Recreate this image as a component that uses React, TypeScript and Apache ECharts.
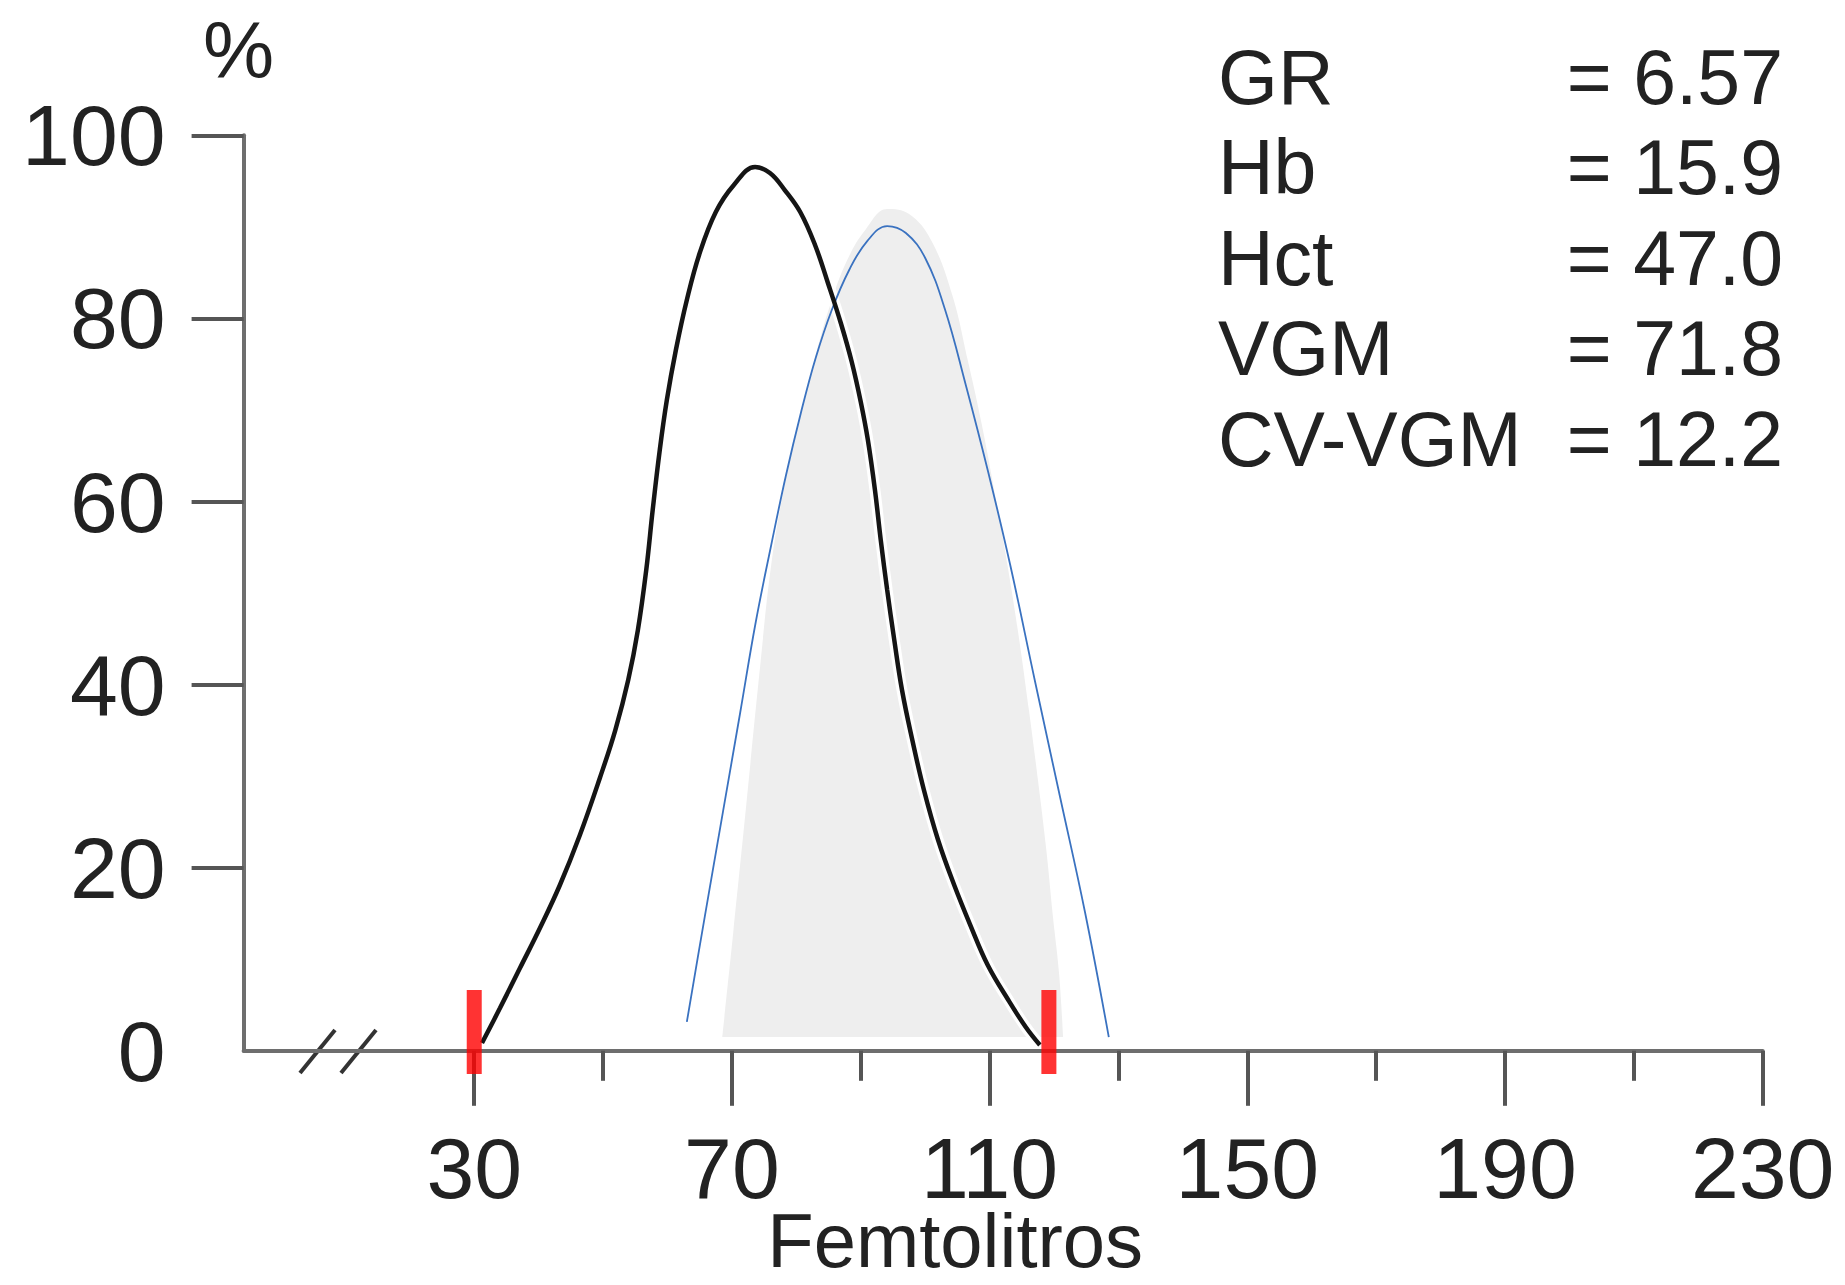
import React, { useEffect, useRef } from "react";
import * as echarts from "echarts";

// ---- data ----
const yLabelValues = [0, 20, 40, 60, 80, 100];
const yTickValues = [20, 40, 60, 80, 100];
const xLabelValues = [30, 70, 110, 150, 190, 230];
const xMinorTickValues = [50, 90, 130, 170, 210];

// patient RBC volume distribution (black)
const sampleCurve: number[][] = [
  [31.2, 0.85], [34.0, 4.67], [37.1, 9.04], [40.2, 13.41], [43.3, 18.11], [46.4, 23.57],
  [49.5, 29.8], [51.9, 35.04], [53.9, 40.5], [55.4, 45.96], [56.7, 52.52], [57.7, 59.07],
  [58.8, 65.63], [59.9, 71.09], [61.3, 76.55], [63.0, 82.01], [65.0, 87.14], [67.5, 91.62],
  [70.3, 94.57], [73.6, 96.54], [75.9, 95.88], [78.2, 94.02], [80.6, 91.62], [82.9, 88.02],
  [84.9, 83.87], [86.9, 79.5], [88.6, 75.24], [90.0, 70.87], [91.1, 66.72], [92.2, 61.26],
  [93.1, 55.8], [94.1, 50.33], [95.2, 44.87], [96.4, 39.41], [98.0, 33.95], [99.8, 28.49],
  [102.0, 23.03], [104.5, 18.11], [107.0, 13.74], [109.7, 9.37], [112.9, 5.55], [115.6, 2.6],
  [117.8, 0.63],
];

// reference distribution (blue)
const referenceCurve: number[][] = [
  [63.0, 3.15], [65.8, 14.72], [68.6, 26.08], [71.3, 37.01], [73.7, 46.84], [76.1, 55.25],
  [78.4, 62.89], [80.7, 69.67], [83.0, 75.68], [85.5, 80.92], [88.2, 85.29], [91.0, 88.45],
  [94.1, 90.09], [97.0, 89.33], [100.0, 86.6], [103.1, 80.92], [106.3, 72.73], [109.7, 63.44],
  [113.2, 53.06], [117.0, 40.5], [120.9, 27.83], [124.8, 15.16], [128.5, 1.5],
];

// normal range band (grey)
const normalBand: number[][] = [
  [68.5, 1.5], [70.2, 12.9], [72.3, 27.4], [74.4, 42.14], [76.2, 53.61], [78.4, 62.57],
  [80.7, 69.67], [83.0, 76.0], [85.4, 81.79], [87.9, 86.38], [90.7, 89.66], [94.1, 91.95],
  [97.5, 91.4], [100.9, 88.56], [104.2, 82.56], [106.6, 75.46], [108.8, 68.36], [111.0, 60.16],
  [112.9, 52.52], [114.6, 44.87], [116.1, 37.23], [117.5, 29.58], [118.8, 21.93], [119.8, 14.83],
  [120.8, 8.28], [121.4, 1.5],
];
const bandBase = 1.5;

const thresholdMarkers: number[][] = [[30, 2.05], [119.2, 2.05]];

const statNames = ["GR", "Hb", "Hct", "VGM", "CV-VGM"];
const statValues = ["6.57", "15.9", "47.0", "71.8", "12.2"];

const FONT = "'Liberation Sans', Arial, Helvetica, sans-serif";
const AXIS_COLOR = "#6e6e6e";
const TEXT_COLOR = "#222222";

export default function App() {
  const ref = useRef<HTMLDivElement>(null);

  useEffect(() => {
    if (!ref.current) return;
    const chart = echarts.init(ref.current, undefined, { renderer: "svg" });

    const statGraphics: any[] = [];
    statNames.forEach((n, i) => {
      statGraphics.push({
        type: "text",
        left: 1218,
        top: 76 + i * 90.5 - 38,
        style: { text: n, font: `77px ${FONT}`, fill: TEXT_COLOR },
      });
      statGraphics.push({
        type: "text",
        right: 1845 - 1783,
        top: 76 + i * 90.5 - 38,
        style: { text: "= " + statValues[i], font: `77px ${FONT}`, fill: TEXT_COLOR, textAlign: "right" },
      });
    });

    const smooth = 0.4;

    const option: any = {
      animation: false,
      backgroundColor: "#ffffff",
      grid: {
        left: 243.6,
        right: 82.3,
        top: 135.3,
        bottom: 234.2,
        containLabel: false,
        outerBoundsMode: "none",
      },
      xAxis: [
        {
          type: "value",
          min: -5.8,
          max: 230,
          position: "bottom",
          axisLine: { show: true, onZero: false, lineStyle: { color: AXIS_COLOR, width: 4 } },
          axisTick: { show: true, customValues: xLabelValues, length: 55, lineStyle: { color: "#555", width: 4 } },
          axisLabel: {
            show: true,
            customValues: xLabelValues,
            margin: 82,
            fontSize: 86,
            lineHeight: 70,
            fontFamily: FONT,
            color: TEXT_COLOR,
          },
          splitLine: { show: false },
          name: "Femtolitros",
          nameLocation: "middle",
          nameGap: 160,
          nameMoveOverlap: false,
          nameTextStyle: {
            fontSize: 76,
            lineHeight: 60,
            fontFamily: FONT,
            color: TEXT_COLOR,
            padding: [0, 96, 0, 0],
          },
        },
        {
          type: "value",
          min: -5.8,
          max: 230,
          position: "bottom",
          axisLine: { show: false, onZero: false },
          axisTick: { show: true, customValues: xMinorTickValues, length: 30, lineStyle: { color: "#555", width: 4 } },
          axisLabel: { show: false },
          splitLine: { show: false },
        },
      ],
      yAxis: {
        type: "value",
        min: 0,
        max: 100,
        axisLine: { show: true, onZero: false, lineStyle: { color: AXIS_COLOR, width: 4 } },
        axisTick: { show: true, customValues: yTickValues, length: 52, lineStyle: { color: "#555", width: 4 } },
        axisLabel: {
          show: true,
          customValues: yLabelValues,
          margin: 78,
          fontSize: 86,
          fontFamily: FONT,
          color: TEXT_COLOR,
        },
        splitLine: { show: false },
        name: "%",
        nameLocation: "end",
        nameGap: 45,
        nameMoveOverlap: false,
        nameTextStyle: { fontSize: 80, fontFamily: FONT, color: TEXT_COLOR, padding: [0, 10, 0, 0] },
      },
      graphic: [
        { type: "line", shape: { x1: 300, y1: 1073, x2: 335, y2: 1030 }, style: { stroke: "#333", lineWidth: 4 } },
        { type: "line", shape: { x1: 341, y1: 1073, x2: 376, y2: 1030 }, style: { stroke: "#333", lineWidth: 4 } },
        ...statGraphics,
      ],
      series: [
        {
          type: "line",
          data: normalBand,
          smooth,
          showSymbol: false,
          silent: true,
          lineStyle: { width: 0, opacity: 0 },
          areaStyle: { color: "#eeeeee", opacity: 1, origin: bandBase },
          z: 1,
        },
        {
          type: "line",
          data: sampleCurve,
          smooth,
          showSymbol: false,
          silent: true,
          lineStyle: { width: 11, color: "#ffffff" },
          z: 2,
        },
        {
          type: "line",
          data: referenceCurve,
          smooth,
          showSymbol: false,
          silent: true,
          lineStyle: { width: 1.8, color: "#3a72c0" },
          z: 3,
        },
        {
          type: "line",
          data: sampleCurve,
          smooth,
          showSymbol: false,
          silent: true,
          lineStyle: { width: 4.5, color: "#151515" },
          z: 4,
        },
        {
          type: "scatter",
          data: thresholdMarkers,
          symbol: "rect",
          symbolSize: [15, 84],
          silent: true,
          itemStyle: { color: "#ff0000" },
          z: 5,
        },
      ],
    };

    chart.setOption(option);
    return () => chart.dispose();
  }, []);

  return (
    <div
      ref={ref}
      style={{ position: "absolute", left: 0, top: 0, width: 1845, height: 1285, background: "#fff" }}
    />
  );
}
